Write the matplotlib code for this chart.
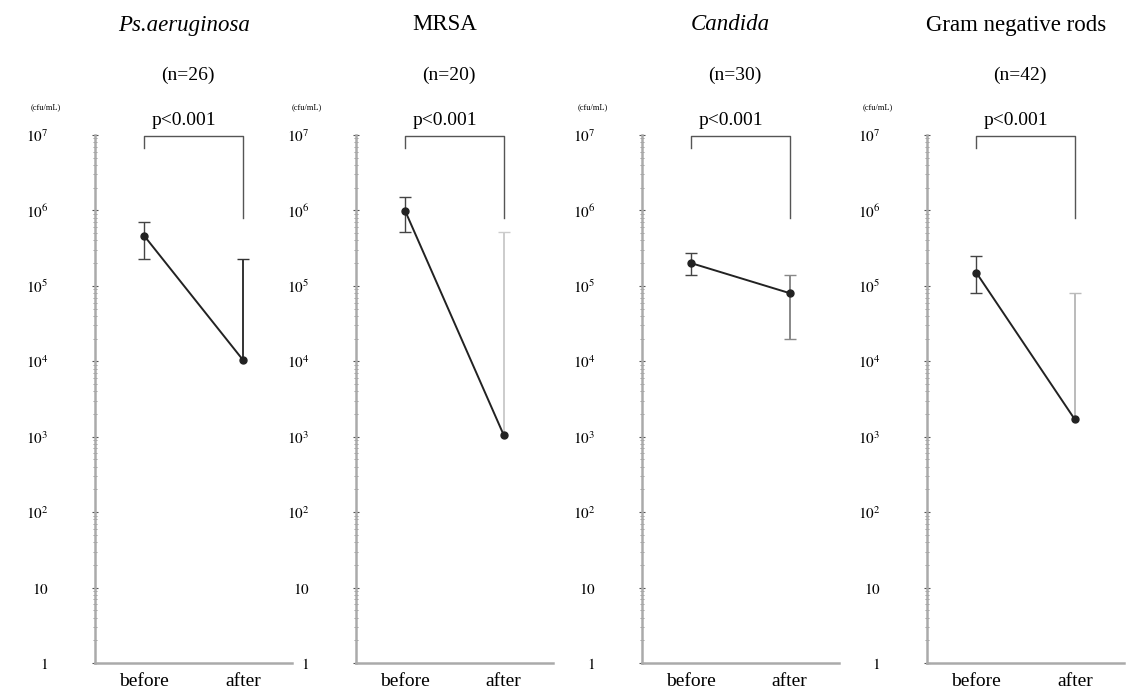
import numpy as np
import matplotlib
matplotlib.use("Agg")
import matplotlib.pyplot as plt

plt.rcParams["font.family"] = ["Liberation Serif", "DejaVu Serif"]
plt.rcParams["mathtext.fontset"] = "stix"

# data (cfu/mL)
titles = ["Ps.aeruginosa", "MRSA", "Candida", "Gram negative rods"]
title_italic = [True, False, True, False]
n_counts = [26, 20, 30, 42]
groups = ["before", "after"]
before_mean = [4.6e5, 9.8e5, 2.0e5, 1.5e5]
before_low = [2.3e5, 5.2e5, 1.4e5, 8.0e4]
before_high = [7.0e5, 1.5e6, 2.7e5, 2.5e5]
after_mean = [1.05e4, 1.05e3, 8.0e4, 1.7e3]
after_low = [None, None, 2.0e4, None]
after_high = [2.3e5, 5.2e5, 1.4e5, 8.0e4]
p_text = ["p<0.001"] * 4
ytick_vals = [1, 10, 1e2, 1e3, 1e4, 1e5, 1e6, 1e7]
ytick_labels = ["$1$", "$10$", "$10^2$", "$10^3$", "$10^4$", "$10^5$", "$10^6$", "$10^7$"]

after_err_color = ["#333333", "#cccccc", "#888888", "#bbbbbb"]

W, H = 1131, 698
fig = plt.figure(figsize=(W / 100, H / 100), dpi=100)

lefts = [95, 356, 642, 927]
ax_w = 197
ax_bottom, ax_top = 663, 135

for i in range(4):
    ax = fig.add_axes([lefts[i] / W, 1 - ax_bottom / H, ax_w / W, (ax_bottom - ax_top) / H])
    ax.set_yscale("log")
    ax.set_ylim(1, 1e7)
    ax.set_xlim(-0.5, 1.5)

    x = [0, 1]
    ax.plot(x, [before_mean[i], after_mean[i]], color="#222222", lw=1.4, zorder=3)

    # before error bar
    ax.errorbar([0], [before_mean[i]],
                yerr=[[before_mean[i] - before_low[i]], [before_high[i] - before_mean[i]]],
                fmt="o", color="#222222", ms=5, ecolor="#444444", elinewidth=1.0,
                capsize=4, capthick=1.0, zorder=4)
    # after error bar (one-sided when no lower value)
    lo = 0 if after_low[i] is None else after_mean[i] - after_low[i]
    eb = ax.errorbar([1], [after_mean[i]],
                     yerr=[[lo], [after_high[i] - after_mean[i]]],
                     fmt="none", ecolor=after_err_color[i], elinewidth=1.4,
                     capsize=4, capthick=1.0, zorder=2)
    if after_low[i] is None:
        eb[1][0].set_visible(False)
    ax.plot([1], [after_mean[i]], "o", color="#222222", ms=5, zorder=4)

    # significance bracket
    top = 0.97e7
    ax.plot([0, 0, 1, 1], [6.8e6, top, top, 8e5], color="#555555", lw=1.0, clip_on=False)
    ax.text(0.45, 1.012, p_text[i], transform=ax.transAxes, ha="center", va="bottom",
            fontsize=14)

    ax.set_xticks(x)
    ax.set_xticklabels(groups, fontsize=14)
    ax.tick_params(axis="x", length=0, pad=7)

    ax.set_yticks(ytick_vals)
    ax.set_yticklabels(ytick_labels, fontsize=11)
    ax.tick_params(axis="y", which="major", direction="inout", length=5, width=0.8,
                   color="#555555", pad=31)
    ax.tick_params(axis="y", which="minor", direction="inout", length=3, width=0.6,
                   color="#888888")
    ax.yaxis.set_minor_formatter(matplotlib.ticker.NullFormatter())

    for s in ["top", "right"]:
        ax.spines[s].set_visible(False)
    for s in ["left", "bottom"]:
        ax.spines[s].set_color("#aaaaaa")
        ax.spines[s].set_linewidth(1.8)

    ax.text(-0.25, 1.045, "(cfu/mL)", transform=ax.transAxes, ha="center",
            va="bottom", fontsize=6)

    ax.text(0.45, 1 + (ax_top - 25) / (ax_bottom - ax_top), titles[i],
            transform=ax.transAxes, ha="center", va="center", fontsize=16.5,
            style="italic" if title_italic[i] else "normal")
    ax.text(0.47, 1 + (ax_top - 75) / (ax_bottom - ax_top), "(n=%d)" % n_counts[i],
            transform=ax.transAxes, ha="center", va="center", fontsize=14)

fig.savefig("out.png", dpi=100)
